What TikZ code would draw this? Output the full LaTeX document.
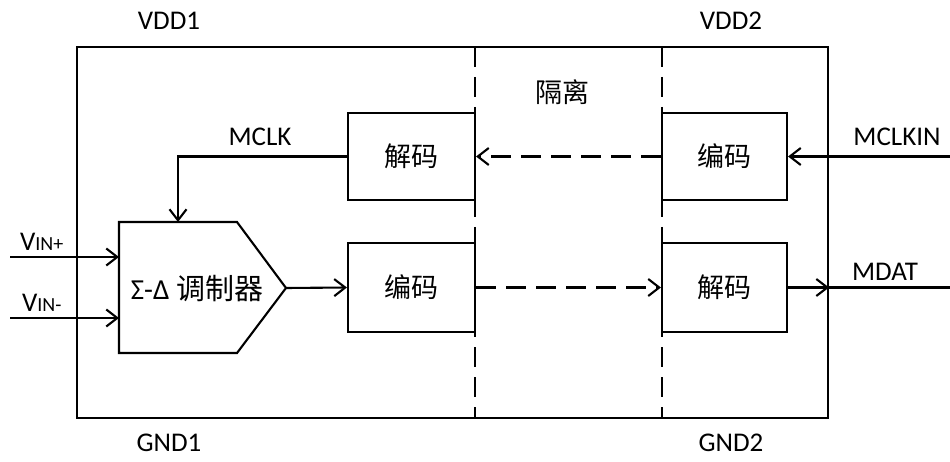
\documentclass[tikz,border=0pt]{standalone}
\usepackage{fontspec}
\setmainfont{Carlito}
\newfontfamily\cjk{Noto Sans CJK SC}
\usetikzlibrary{arrows.meta}
\begin{document}
\begin{tikzpicture}[x=1pt,y=-1pt, line width=2.1pt,
  arr/.style={-{Straight Barb[length=11pt,width=17pt,line width=2.1pt]}},
  dsh/.style={dash pattern=on 20pt off 10pt},
  box/.style={draw, minimum width=127pt, minimum height=87pt, inner sep=0pt, font=\cjk\fontsize{27}{27}\selectfont},
  lbl/.style={inner sep=0pt, font=\fontsize{27}{27}\selectfont},
  cjklbl/.style={inner sep=0pt, font=\cjk\fontsize{27}{27}\selectfont}]
\useasboundingbox (0,0) rectangle (950,462);
% outer chip
\node (chip) [draw, minimum width=751pt, minimum height=371pt, inner sep=0pt] at (452.5,232.5) {};
% isolation barrier
\coordinate (b1t) at (475,47); \coordinate (b1b) at (475,418);
\coordinate (b2t) at (662,47); \coordinate (b2b) at (662,418);
\draw[dsh] (b1t) -- (b1b);
\draw[dsh] (b2t) -- (b2b);
% blocks
\node (dec1) [box] at (411.5,156.5) {解码};
\node (enc1) [box, minimum width=125pt] at (724.5,156.5) {编码};
\node (enc2) [box, minimum height=89pt] at (411.5,287.5) {编码};
\node (dec2) [box, minimum width=125pt, minimum height=89pt] at (724.5,287.5) {解码};
% modulator
\draw (119,222) -- (237,222) -- (286,288) -- (237,353) -- (119,353) -- cycle;
\node (modtxt) [inner sep=0pt, font=\fontsize{29}{29}\selectfont] at (197,289) {Σ-Δ {\cjk 调制器}};
\coordinate (modout) at (286,288);
\coordinate (modin1) at (119,257);
\coordinate (modin2) at (119,318);
\coordinate (modtop) at (178,222);
% free ends
\coordinate (vinp) at (10,257);
\coordinate (vinm) at (10,318);
\coordinate (mclkin) at (950,156.5);
\coordinate (mdat) at (950,287.5);
% connectors
\draw[arr] (dec1.west) -| (modtop);
\draw[arr,dsh] (enc1.west) -- (dec1.east);
\draw[arr] (mclkin) -- (enc1.east);
\draw[arr] (modout) -- (enc2.west);
\draw[arr,dsh] (enc2.east) -- (dec2.west);
\draw[arr] (dec2.east) -- (dec2.east -| chip.east);
\draw (dec2.east -| chip.east) -- (mdat);
\draw[arr] (vinp) -- (modin1);
\draw[arr] (vinm) -- (modin2);
% labels
\node (vdd1) [lbl] at (169,21) {VDD1};
\node (vdd2) [lbl] at (731,21) {VDD2};
\node (gnd1) [lbl] at (169,443) {GND1};
\node (gnd2) [lbl] at (731,443) {GND2};
\node (mclk) [lbl] at (260,137) {MCLK};
\node (mclkinl) [lbl] at (897,137) {MCLKIN};
\node (mdatl) [lbl] at (885,272) {MDAT};
\node (iso) [cjklbl] at (562,92) {隔离};
\node (vinpl) [lbl, anchor=base west] at (19,251) {V{\fontsize{20}{20}\selectfont IN+}};
\node (vinml) [lbl, anchor=base west] at (21,312) {V{\fontsize{20}{20}\selectfont IN-}};
\end{tikzpicture}
\end{document}
